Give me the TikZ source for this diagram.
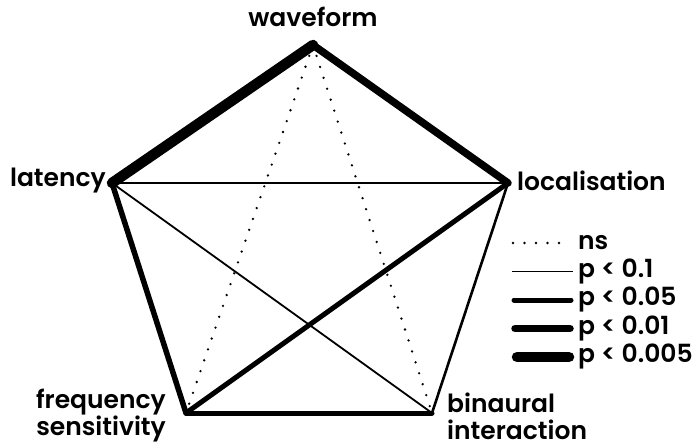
\documentclass[tikz,border=0pt]{standalone}
\usepackage{fontspec}
\setmainfont{Poppins}[BoldFont={* SemiBold}]
\usetikzlibrary{positioning,calc}

\begin{document}
\begin{tikzpicture}[x=1pt, y=-1pt,
  lbl/.style={font=\fontsize{25}{27}\selectfont\bfseries, inner sep=0pt},
  ns/.style={line width=2.6pt, line cap=round, dash pattern=on 0pt off 11.5pt},
  pa/.style={line width=1.8pt, line cap=butt},
  pb/.style={line width=5pt, line cap=round},
  pc/.style={line width=7.5pt, line cap=round},
  pd/.style={line width=10.5pt, line cap=round}
]
\useasboundingbox (0,0) rectangle (698,447);
\coordinate (wav) at (313,45);
\coordinate (lat) at (112,183);
\coordinate (loc) at (508,183);
\coordinate (frq) at (186,413);
\coordinate (bin) at (432,413);
\node[lbl] (twav) at (313,17) {waveform};
\node[lbl, anchor=east] (tlat) at (106,181) {latency};
\node[lbl, anchor=west] (tloc) at (517,181) {localisation};
\node[lbl, align=right, anchor=east] (tfrq) at (166,416) {frequency\\sensitivity};
\node[lbl, align=left, anchor=west] (tbin) at (447,416) {binaural\\interaction};
\draw[ns] (wav) -- (frq);
\draw[ns] (wav) -- (bin);
\draw[pa] (lat) -- (loc);
\draw[pa] (lat) -- (bin);
\draw[pa, line width=2.6pt] (loc) -- (bin);
\draw[pb] (loc) -- (frq);
\draw[pb] (frq) -- (bin);
\draw[pb, line width=5.5pt] (lat) -- (frq);
\draw[pc] (wav) -- (loc);
\draw[pd] (wav) -- (lat);
\foreach \s/\t/\b/\e [count=\i] in {ns/ns/65/19, pa/p < 0.1/66/5, pb/p < 0.05/64/7, pc/p < 0.01/63/8, pd/p < 0.005/61/9} {
  \node[lbl, anchor=west] (leg\i) at (578, 214.5+28.5*\i) {\t};
  \draw[\s] ([xshift=-\b pt]leg\i.west) -- ([xshift=-\e pt]leg\i.west);
}
\end{tikzpicture}
\end{document}
